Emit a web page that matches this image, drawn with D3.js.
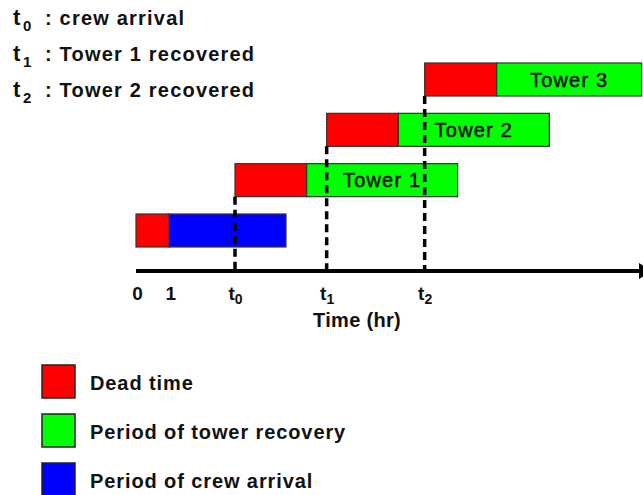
<!DOCTYPE html>
<html>
<head>
<meta charset="utf-8">
<script src="https://cdn.jsdelivr.net/npm/d3@7"></script>
<style>
	body { margin: 0; background: #fff; }
	svg { display: block; font-family: "Liberation Sans", Arial, sans-serif; }
	.bold { font-weight: bold; fill: #111; }
</style>
</head>
<body>
<svg id="chart" width="643" height="495"></svg>
<script>
// rows, bottom to top
var rows = ['Crew', 'Tower 1', 'Tower 2', 'Tower 3'];
var rowLabels = ['', 'Tower 1', 'Tower 2', 'Tower 3'];
// hours (0 -> 1 is one hour)
var deadStart = [0, 2.97, 5.72, 8.66];
var workStart = [1, 5.12, 7.87, 10.82];
var workEnd = [4.5, 9.65, 12.4, 15.17];
var workKind = ['arrival', 'recovery', 'recovery', 'recovery'];

var tickValues = [0, 1, 2.97, 5.72, 8.66];
var tickMain = ['0', '1', 't', 't', 't'];
var tickSub = ['', '', '0', '1', '2'];

var notes = [
	{ sub: '0', text: ': crew arrival' },
	{ sub: '1', text: ': Tower 1 recovered' },
	{ sub: '2', text: ': Tower 2 recovered' }
];
var legendNames = ['Dead time', 'Period of tower recovery', 'Period of crew arrival'];
var legendKeys = ['dead', 'recovery', 'arrival'];

var chart = {
	colors: { dead: '#ff0000', recovery: '#00ff00', arrival: '#0000ff' },
	axisY: 271,
	init: function() {
		chart.svg = d3.select('#chart');
		chart.x = d3.scaleLinear().domain([0, 15]).range([136, 636]);
		chart.y = d3.scaleBand().domain(rows.slice().reverse())
			.range([63, 247]).paddingInner(0.344).paddingOuter(0);

		chart.notes();
		chart.bars();
		chart.axis();
		chart.legend();
	},
	notes: function() {
		var g = chart.svg.append('g');
		notes.forEach(function(n, i) {
			var base = 25 + i * 36;
			g.append('text').attr('class', 'bold')
				.attr('x', 13).attr('y', base)
				.style('font-size', '22px')
				.text('t');
			g.append('text').attr('class', 'bold')
				.attr('x', 23).attr('y', base + 6)
				.style('font-size', '15px')
				.text(n.sub);
			g.append('text').attr('class', 'bold')
				.attr('x', 45).attr('y', base)
				.style('font-size', '20px')
				.style('letter-spacing', '1.2px')
				.text(n.text);
		});
	},
	bars: function() {
		var x = chart.x, y = chart.y;
		var g = chart.svg.append('g');
		var data = rows.map(function(r, i) {
			return { row: r, label: rowLabels[i], d0: deadStart[i], w0: workStart[i], w1: workEnd[i], kind: workKind[i] };
		});

		g.selectAll('rect.dead').data(data).enter().append('rect')
			.attr('class', 'dead')
			.attr('x', function(d) { return x(d.d0); })
			.attr('y', function(d) { return y(d.row); })
			.attr('width', function(d) { return x(d.w0) - x(d.d0); })
			.attr('height', y.bandwidth())
			.attr('fill', chart.colors.dead)
			.attr('stroke', '#333').attr('stroke-width', 1.2);

		g.selectAll('rect.work').data(data).enter().append('rect')
			.attr('class', 'work')
			.attr('x', function(d) { return x(d.w0); })
			.attr('y', function(d) { return y(d.row); })
			.attr('width', function(d) { return x(d.w1) - x(d.w0); })
			.attr('height', y.bandwidth())
			.attr('fill', function(d) { return chart.colors[d.kind]; })
			.attr('stroke', '#333').attr('stroke-width', 1.2);

		g.selectAll('text.tower').data(data.filter(function(d) { return d.label; }))
			.enter().append('text')
			.attr('class', 'tower')
			.attr('x', function(d) { return (x(d.w0) + x(d.w1)) / 2; })
			.attr('y', function(d) { return y(d.row) + y.bandwidth() / 2 + 7; })
			.attr('text-anchor', 'middle')
			.style('font-size', '20px')
			.style('letter-spacing', '1.2px')
			.attr('fill', '#111')
			.attr('stroke', '#111').attr('stroke-width', 0.5)
			.text(function(d) { return d.label; });

		// dashed markers from each tower's start down to the time axis
		g.selectAll('line.mark').data(data.slice(1)).enter().append('line')
			.attr('class', 'mark')
			.attr('x1', function(d) { return x(d.d0); })
			.attr('x2', function(d) { return x(d.d0); })
			.attr('y1', function(d) { return y(d.row) + y.bandwidth(); })
			.attr('y2', chart.axisY)
			.attr('stroke', '#000')
			.attr('stroke-width', 3.5)
			.attr('stroke-dasharray', '8,5');
	},
	axis: function() {
		var x = chart.x;
		var axis = d3.axisBottom(x).tickValues(tickValues).tickSize(0).tickFormat('');
		var g = chart.svg.append('g')
			.attr('transform', 'translate(0,' + chart.axisY + ')')
			.call(axis);
		g.select('.domain').remove();

		g.selectAll('.tick text').remove();
		g.selectAll('.tick').each(function(v, i) {
			var t = d3.select(this).append('text')
				.attr('class', 'bold')
				.attr('y', 29)
				.attr('x', tickSub[i] ? 0 : 1)
				.attr('text-anchor', 'middle')
				.style('font-size', '19px');
			t.append('tspan').text(tickMain[i]);
			if (tickSub[i]) {
				t.append('tspan').attr('dy', 4).style('font-size', '14px').text(tickSub[i]);
			}
		});

		g.append('line')
			.attr('x1', x(0)).attr('x2', 641)
			.attr('y1', 0).attr('y2', 0)
			.attr('stroke', '#000').attr('stroke-width', 4);
		g.append('path')
			.attr('d', 'M639,-8L652,0L639,8Z')
			.attr('fill', '#000');

		g.append('text').attr('class', 'bold')
			.attr('x', 357).attr('y', 56)
			.attr('text-anchor', 'middle')
			.style('font-size', '20px')
			.style('letter-spacing', '0.3px')
			.text('Time (hr)');
	},
	legend: function() {
		var ly = d3.scalePoint().domain(legendKeys).range([365, 463]);
		var g = chart.svg.append('g');
		var item = g.selectAll('g.item').data(legendKeys).enter().append('g')
			.attr('class', 'item')
			.attr('transform', function(k) { return 'translate(42,' + ly(k) + ')'; });
		item.append('rect')
			.attr('width', 33).attr('height', 33)
			.attr('fill', function(k) { return chart.colors[k]; })
			.attr('stroke', '#222').attr('stroke-width', 1.5);
		item.append('text').attr('class', 'bold')
			.attr('x', 48).attr('y', 25)
			.style('font-size', '20px')
			.style('letter-spacing', '0.9px')
			.text(function(k, i) { return legendNames[i]; });
	}
};

chart.init();
</script>
</body>
</html>
